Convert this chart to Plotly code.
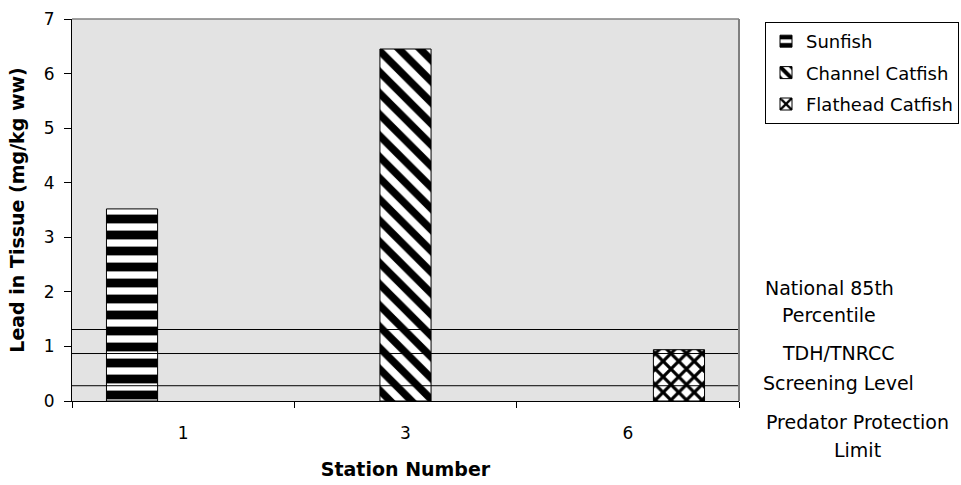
import plotly.graph_objects as go

stations = ["1", "3", "6"]
series_names = ["Sunfish", "Channel Catfish", "Flathead Catfish"]
sunfish = [3.52, None, None]
channel_catfish = [None, 6.45, None]
flathead_catfish = [None, None, 0.94]
ref_values = [1.31, 0.87, 0.28]
ref_labels = [["National 85th", "Percentile"],
              ["TDH/TNRCC", "Screening Level"],
              ["Predator Protection", "Limit"]]

FONT = "DejaVu Sans"
W, H = 961, 485
L, R, T, B = 72, 222, 19, 84
pw, ph = W - L - R, H - T - B

def px_x(x):
    return (x - L) / pw

def px_y(y):
    return (H - B - y) / ph

patterns = [
    dict(shape="-", size=16, solidity=0.55, fgcolor="black", bgcolor="white", fillmode="replace"),
    dict(shape="\\", size=15, solidity=0.5, fgcolor="black", bgcolor="white", fillmode="replace"),
    dict(shape="x", size=11, solidity=0.5, fgcolor="black", bgcolor="white", fillmode="replace"),
]

fig = go.Figure()
for i, (name, vals) in enumerate(zip(series_names, [sunfish, channel_catfish, flathead_catfish])):
    fig.add_trace(go.Bar(
        x=stations, y=vals, name=name, legendgroup=name,
        marker=dict(color="white", line=dict(color="black", width=1), pattern=patterns[i]),
    ))

for v in ref_values:
    fig.add_shape(type="line", xref="paper", x0=0, x1=1, yref="y", y0=v, y1=v,
                  line=dict(color="black", width=1), layer="above")

# plot frame (top & right)
fig.add_shape(type="line", xref="paper", yref="paper", x0=0, x1=1, y0=1, y1=1,
              line=dict(color="#808080", width=1.5), layer="above")
fig.add_shape(type="line", xref="paper", yref="paper", x0=1, x1=1, y0=0, y1=1,
              line=dict(color="#808080", width=2), layer="above")

centers_x = [829, 838, 857]
centers_y = [[288, 315], [353, 383], [422, 450]]
for lines, cx, cys in zip(ref_labels, centers_x, centers_y):
    for txt, cy in zip(lines, cys):
        fig.add_annotation(text=txt, xref="paper", yref="paper", x=px_x(cx), y=px_y(cy),
                           xanchor="center", yanchor="middle", showarrow=False,
                           font=dict(family=FONT, size=19, color="black"))

fig.update_layout(
    width=W, height=H,
    margin=dict(l=L, r=R, t=T, b=B, autoexpand=False),
    paper_bgcolor="white", plot_bgcolor="#E3E3E3",
    barmode="group", bargap=0.31, bargroupgap=0,
    font=dict(family=FONT, size=17, color="black"),
    legend=dict(x=px_x(765), y=px_y(22), xanchor="left", yanchor="top",
                bordercolor="black", borderwidth=1, bgcolor="white",
                font=dict(family=FONT, size=18, color="black"),
                tracegroupgap=5, traceorder="grouped"),
    showlegend=True,
)
fig.update_xaxes(type="category", categoryorder="array", categoryarray=stations,
                 showline=True, linecolor="black", linewidth=1,
                 ticks="outside", tickson="boundaries", ticklen=6, tickcolor="black",
                 showgrid=False, zeroline=False, ticklabelstandoff=17,
                 tickfont=dict(family=FONT, size=17),
                 title=dict(text="<b>Station Number</b>", standoff=20,
                            font=dict(family=FONT, size=19)))
fig.update_yaxes(range=[0, 7], dtick=1, showline=True, linecolor="black", linewidth=1,
                 ticks="outside", ticklen=7, tickcolor="black",
                 showgrid=False, zeroline=False, ticklabelstandoff=6,
                 tickfont=dict(family=FONT, size=17),
                 title=dict(text="<b>Lead in Tissue (mg/kg ww)</b>", standoff=14,
                            font=dict(family=FONT, size=19)))

fig.write_html("out.html")
